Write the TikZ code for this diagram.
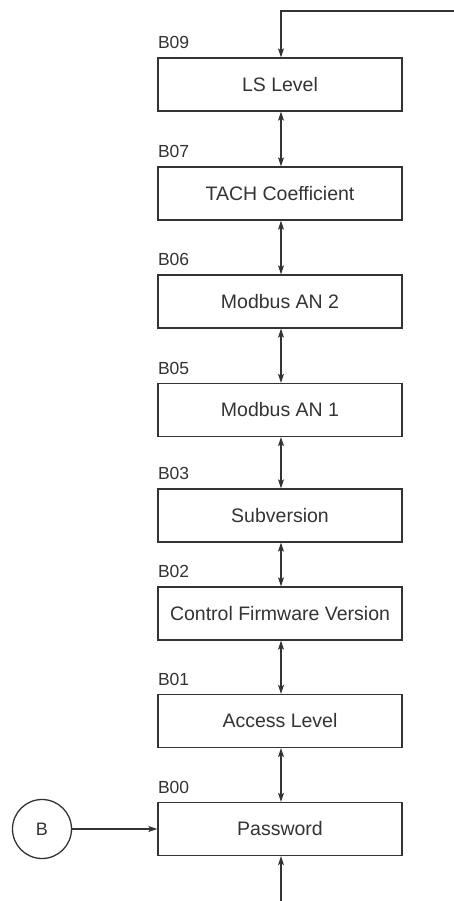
\documentclass[tikz,border=0pt]{standalone}
\usepackage{fontspec}
\setmainfont{Liberation Sans}
\usetikzlibrary{arrows.meta}
\definecolor{ink}{HTML}{333333}
\begin{document}
\begin{tikzpicture}[x=1pt,y=-1pt,
  line width=1.3pt, draw=ink,
  box/.style={draw=ink, line width=1.3pt, minimum width=244pt, minimum height=53pt, inner sep=0pt, text=ink, font=\fontsize{19.5}{22}\selectfont},
  lbl/.style={anchor=south west, inner sep=0pt, text=ink, font=\fontsize{17.5}{20}\selectfont},
  tip/.style={-{Stealth[length=9pt,width=6pt,inset=2pt]}},
  both/.style={{Stealth[length=9pt,width=6pt,inset=2pt]}-{Stealth[length=9pt,width=6pt,inset=2pt]}}
]
\useasboundingbox (0,0) rectangle (454,901);
\node[box] (b09) at (280,84.5) {LS Level};
\node[box] (b07) at (280,193.5) {TACH Coefficient};
\node[box] (b06) at (280,301.5) {Modbus AN 2};
\node[box] (b05) at (280,410) {Modbus AN 1};
\node[box] (b03) at (280,515.5) {Subversion};
\node[box] (b02) at (280,613.5) {Control Firmware Version};
\node[box] (b01) at (280,721) {Access Level};
\node[box] (b00) at (280,829) {Password};
\foreach \n/\t in {b09/B09,b07/B07,b06/B06,b05/B05,b03/B03,b02/B02,b01/B01,b00/B00}
  \node[lbl] (l\n) at ([yshift=8pt]\n.north west) {\t};
\node[circle, draw=ink, line width=1.3pt, minimum size=59pt, inner sep=0pt, text=ink, font=\fontsize{18}{20}\selectfont] (cb) at (42,829) {B};
\coordinate (topr) at (454,11);
\coordinate (topl) at (281,11);
\coordinate (bot) at (281,901);
\draw[tip, ink] (topr) -- (topl) -- ([xshift=1pt]b09.north);
\foreach \a/\b in {b09/b07,b07/b06,b06/b05,b05/b03,b03/b02,b02/b01,b01/b00}
  \draw[both, ink] ([xshift=1pt]\a.south) -- ([xshift=1pt]\b.north);
\draw[tip, ink] (bot) -- ([xshift=1pt]b00.south);
\draw[tip, ink] (cb.east) -- (b00.west);
\end{tikzpicture}
\end{document}
